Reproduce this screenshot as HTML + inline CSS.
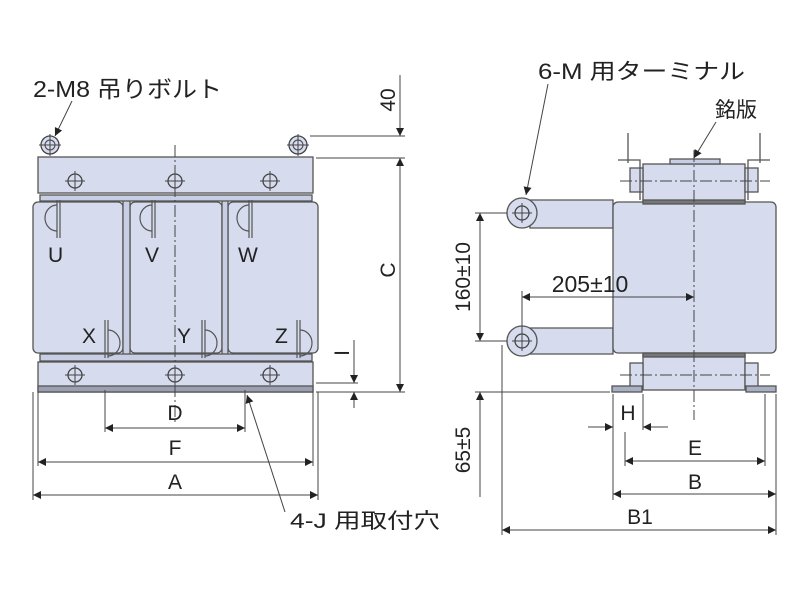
<!DOCTYPE html>
<html><head><meta charset="utf-8"><style>
html,body{margin:0;padding:0;background:#fff;}
svg{display:block;}
text{font-family:"Liberation Sans","Noto Sans CJK JP",sans-serif;fill:#222;}
</style></head><body>
<svg width="796" height="598" viewBox="0 0 796 598" xmlns="http://www.w3.org/2000/svg">
<defs>
<marker id="ar" viewBox="0 0 10 10" refX="10" refY="5" markerWidth="13" markerHeight="8" orient="auto-start-reverse" markerUnits="userSpaceOnUse"><path d="M0,0 L10,5 L0,10 z" fill="#222"/></marker>
<g id="hole"><circle r="7" fill="none" stroke="#444" stroke-width="1.3"/><line x1="-10" y1="0" x2="10" y2="0" stroke="#444"/><line x1="0" y1="-10" x2="0" y2="10" stroke="#444"/></g>
<g id="lbolt"><circle r="9" fill="#d6dcee" stroke="#444" stroke-width="1.3"/><circle r="5" fill="none" stroke="#444"/><line x1="-11" y1="0" x2="11" y2="0" stroke="#444"/><line x1="0" y1="-11" x2="0" y2="11" stroke="#444"/></g>
</defs>
<g stroke="#555" stroke-width="1.3" fill="#d6dcee">
<rect x="33" y="202" width="90" height="151" rx="5"/>
<rect x="130" y="202" width="92" height="151" rx="5"/>
<rect x="228" y="202" width="90" height="151" rx="5"/>
<rect x="123" y="200" width="7" height="156" fill="#c8cfe4"/>
<rect x="222" y="200" width="6" height="156" fill="#c8cfe4"/>
<rect x="40" y="195" width="272" height="6" fill="#c8cfe4"/>
<rect x="40" y="354" width="272" height="7" fill="#c8cfe4"/>
<rect x="38" y="157" width="275" height="36"/>
<rect x="38" y="362" width="275" height="30"/>
<rect x="38" y="386" width="275" height="6" fill="#9aa0b2"/>
</g>
<use href="#lbolt" x="50" y="145"/><use href="#lbolt" x="298" y="145"/>
<use href="#hole" x="75" y="181"/><use href="#hole" x="175" y="181"/><use href="#hole" x="270" y="181"/>
<use href="#hole" x="75" y="375"/><use href="#hole" x="175" y="375"/><use href="#hole" x="270" y="375"/>
<g fill="none" stroke="#555" stroke-width="1.2">
<path d="M57,200 v38 M60,200 v38"/><path d="M57,205 a12,13 0 0 0 0,26"/>
<path d="M152,200 v38 M155,200 v38"/><path d="M152,205 a12,13 0 0 0 0,26"/>
<path d="M249,200 v38 M252,200 v38"/><path d="M249,205 a12,13 0 0 0 0,26"/>
<path d="M105,320 v38 M108,320 v38"/><path d="M108,330 a12,13 0 0 1 0,26"/>
<path d="M202,320 v38 M205,320 v38"/><path d="M205,330 a12,13 0 0 1 0,26"/>
<path d="M297,320 v38 M300,320 v38"/><path d="M300,330 a12,13 0 0 1 0,26"/>
</g>
<g font-size="21">
<text x="48" y="262">U</text><text x="145" y="262">V</text><text x="238" y="262">W</text>
<text x="82" y="343">X</text><text x="177" y="343">Y</text><text x="275" y="343">Z</text>
</g>
<line x1="175" y1="145" x2="175" y2="425" stroke="#444" stroke-dasharray="12,3,2,3"/>
<g stroke="#444" stroke-width="1" fill="none">
<line x1="310" y1="136" x2="405" y2="136"/><line x1="316" y1="158" x2="405" y2="158"/>
<line x1="316" y1="392" x2="405" y2="392"/>
<line x1="400" y1="75" x2="400" y2="136" marker-end="url(#ar)"/>
<line x1="400" y1="158" x2="400" y2="392" marker-start="url(#ar)" marker-end="url(#ar)"/>
<line x1="354" y1="340" x2="354" y2="383" marker-end="url(#ar)"/>
<line x1="354" y1="408" x2="354" y2="392" marker-end="url(#ar)"/>
<line x1="316" y1="383" x2="358" y2="383"/>
<line x1="105" y1="390" x2="105" y2="432"/><line x1="245" y1="390" x2="245" y2="432"/>
<line x1="38" y1="392" x2="38" y2="466"/><line x1="313" y1="392" x2="313" y2="466"/>
<line x1="33" y1="392" x2="33" y2="500"/><line x1="318" y1="392" x2="318" y2="500"/>
<line x1="105" y1="428" x2="245" y2="428" marker-start="url(#ar)" marker-end="url(#ar)"/>
<line x1="38" y1="462" x2="313" y2="462" marker-start="url(#ar)" marker-end="url(#ar)"/>
<line x1="33" y1="495" x2="318" y2="495" marker-start="url(#ar)" marker-end="url(#ar)"/>
<line x1="72" y1="101" x2="55" y2="136" marker-end="url(#ar)"/>
<line x1="285" y1="512" x2="247" y2="395" marker-end="url(#ar)"/>
</g>
<g font-size="21">
<text x="175" y="420" text-anchor="middle">D</text>
<text x="175" y="455" text-anchor="middle">F</text>
<text x="175" y="489" text-anchor="middle">A</text>
<text transform="translate(395,100) rotate(-90)" text-anchor="middle">40</text>
<text transform="translate(395,270) rotate(-90)" text-anchor="middle">C</text>
<text transform="translate(349,353) rotate(-90)" text-anchor="middle">I</text>
<text x="33" y="97" font-size="23" textLength="189" lengthAdjust="spacingAndGlyphs">2-M8 吊りボルト</text>
<text x="290" y="528" font-size="21" textLength="150" lengthAdjust="spacingAndGlyphs">4-J 用取付穴</text>
</g>
<g stroke="#555" stroke-width="1.3" fill="#d6dcee">
<rect x="643" y="164" width="102" height="38"/>
<rect x="643" y="354" width="102" height="36"/>
<rect x="670" y="159" width="50" height="5" fill="#c8cfe4"/>
<rect x="630" y="168" width="13" height="24"/><rect x="745" y="168" width="13" height="24"/>
<rect x="630" y="363" width="13" height="24"/><rect x="745" y="363" width="13" height="24"/>
<path d="M530,200 h83 v28 h-83 z"/>
<path d="M530,328 h83 v26 h-83 z"/>
<circle cx="522" cy="213" r="15"/>
<circle cx="522" cy="341" r="15"/>
<rect x="613" y="202" width="163" height="151" rx="5"/>
<rect x="612" y="386" width="30" height="6" fill="#aab0c4"/><rect x="746" y="386" width="30" height="6" fill="#aab0c4"/>
<rect x="643" y="200" width="102" height="4" fill="#777"/>
<rect x="643" y="353" width="102" height="4" fill="#777"/>
</g>
<g stroke="#555" stroke-width="1.3" fill="none">
<path d="M628,133 v30 M760,133 v30 M618,160 h22 v40 M770,160 h-22 v40"/>
</g>
<use href="#hole" x="522" y="213"/><use href="#hole" x="522" y="341"/>
<g stroke="#444" stroke-width="1" fill="none">
<line x1="694" y1="150" x2="694" y2="420" stroke-dasharray="12,3,2,3"/>
<line x1="620" y1="181" x2="770" y2="181" stroke-dasharray="12,3,2,3"/>
<line x1="620" y1="375" x2="770" y2="375" stroke-dasharray="12,3,2,3"/>
<line x1="475" y1="213" x2="507" y2="213"/><line x1="475" y1="341" x2="507" y2="341"/>
<line x1="475" y1="392" x2="610" y2="392"/>
<line x1="480" y1="213" x2="480" y2="341" marker-start="url(#ar)" marker-end="url(#ar)"/>
<line x1="480" y1="497" x2="480" y2="392" marker-end="url(#ar)"/>
<line x1="522" y1="291" x2="522" y2="335"/>
<line x1="522" y1="297" x2="694" y2="297" marker-start="url(#ar)" marker-end="url(#ar)"/>
<line x1="502" y1="345" x2="502" y2="535"/>
<line x1="613" y1="394" x2="613" y2="500"/><line x1="643" y1="394" x2="643" y2="430"/>
<line x1="625" y1="432" x2="625" y2="466"/><line x1="765" y1="394" x2="765" y2="466"/>
<line x1="776" y1="394" x2="776" y2="535"/>
<line x1="588" y1="427" x2="613" y2="427" marker-end="url(#ar)"/>
<line x1="668" y1="427" x2="643" y2="427" marker-end="url(#ar)"/>
<line x1="625" y1="461" x2="765" y2="461" marker-start="url(#ar)" marker-end="url(#ar)"/>
<line x1="613" y1="494" x2="776" y2="494" marker-start="url(#ar)" marker-end="url(#ar)"/>
<line x1="502" y1="530" x2="776" y2="530" marker-start="url(#ar)" marker-end="url(#ar)"/>
<line x1="548" y1="84" x2="526" y2="195" marker-end="url(#ar)"/>
<line x1="716" y1="122" x2="694" y2="158" marker-end="url(#ar)"/>
</g>
<g font-size="21">
<text x="590" y="292" text-anchor="middle" font-size="23">205±10</text>
<text transform="translate(470,277) rotate(-90)" text-anchor="middle">160±10</text>
<text transform="translate(470,450) rotate(-90)" text-anchor="middle">65±5</text>
<text x="628" y="420" text-anchor="middle">H</text>
<text x="695" y="455" text-anchor="middle">E</text>
<text x="695" y="489" text-anchor="middle">B</text>
<text x="640" y="524" text-anchor="middle">B1</text>
<text x="538" y="79" font-size="22" textLength="207" lengthAdjust="spacingAndGlyphs">6-M 用ターミナル</text>
<text x="715" y="117" font-size="21">銘版</text>
</g>
</svg>
</body></html>
